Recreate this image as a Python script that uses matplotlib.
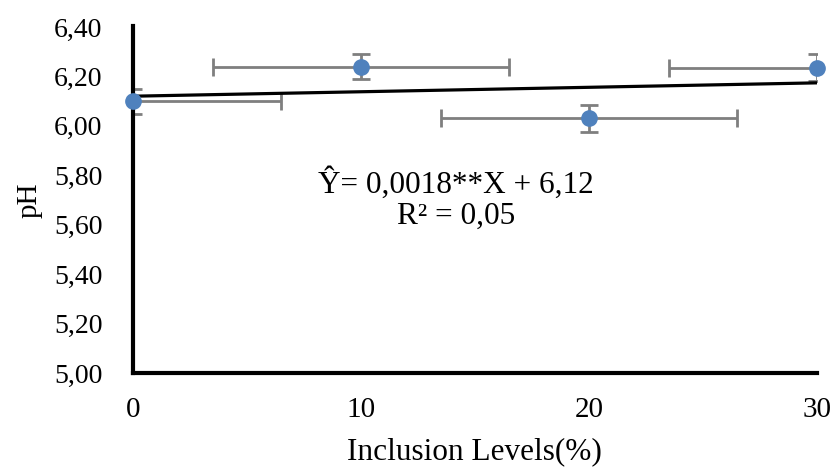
import matplotlib.pyplot as plt
import numpy as np

# データ
levels = [0, 10, 20, 30]
ph = [6.10, 6.24, 6.03, 6.235]
ph_err = [0.05, 0.05, 0.055, 0.055]
x_err = [6.5, 6.5, 6.5, 6.5]
slope = 0.0018
intercept = 6.12
yticks = [5.0, 5.2, 5.4, 5.6, 5.8, 6.0, 6.2, 6.4]
xticks = [0, 10, 20, 30]

plt.rcParams['font.family'] = ['Liberation Serif', 'DejaVu Serif']

fig = plt.figure(figsize=(8.32, 4.67), dpi=100)
ax = fig.add_axes([133 / 832, 94 / 467, 684 / 832, 346 / 467])

# エラーバー
ax.errorbar(levels, ph, yerr=ph_err, xerr=x_err, fmt='none', ecolor='#7f7f7f',
            elinewidth=2, capsize=6.5, capthick=2, zorder=2)

# 回帰直線
xl = np.array([0, 30])
ax.plot(xl, slope * xl + intercept, color='black', lw=2.3, zorder=3)

# データ点
ax.plot(levels, ph, 'o', color='#4f81bd', ms=11, zorder=4, clip_on=False)

ax.set_xlim(0, 30)
ax.set_ylim(5.0, 6.4)
ax.set_xticks(xticks)
ax.set_yticks(yticks)
ax.set_yticklabels([f'{v:.2f}'.replace('.', ',') for v in yticks])
ax.tick_params(length=0)
ax.tick_params(axis='x', labelsize=21, pad=17)
ax.tick_params(axis='y', labelsize=20, pad=22)

for s in ['top', 'right']:
    ax.spines[s].set_visible(False)
for s in ['left', 'bottom']:
    ax.spines[s].set_linewidth(3)
ax.spines['left'].set_bounds(5.0, 6.405)

ax.set_xlabel('Inclusion Levels(%)', fontsize=22.5, va='center')
ax.set_ylabel('pH', fontsize=21, va='center')
ax.xaxis.set_label_coords(0.4985, -0.228)
ax.yaxis.set_label_coords(-0.151, 0.5)

ax.text(14.17, 5.765, 'Ŷ= 0,0018**X + 6,12', ha='center', va='center', fontsize=22.5)
ax.text(14.17, 5.635, 'R² = 0,05', ha='center', va='center', fontsize=22.5)

plt.savefig('out.png')
